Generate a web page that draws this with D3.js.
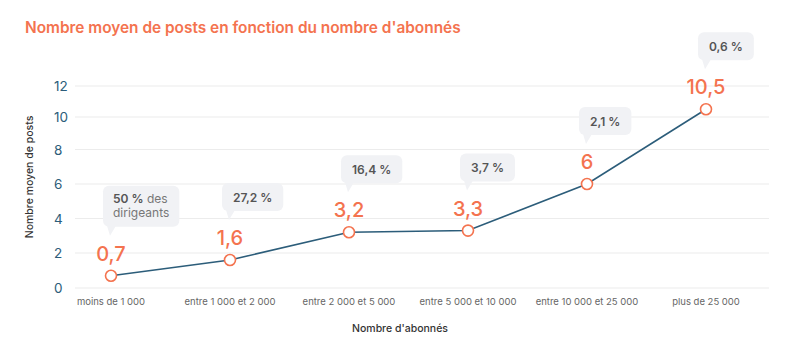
<!DOCTYPE html>
<html><head><meta charset="utf-8">
<script src="https://cdn.jsdelivr.net/npm/d3@7"></script>
<style>
body{margin:0;background:#fff;}
svg{font-family:Inter, "Noto Sans", sans-serif;}
</style></head>
<body>
<svg id="chart" width="800" height="345"></svg>
<script>
const title = "Nombre moyen de posts en fonction du nombre d'abonnés";
const categories = ["moins de 1 000","entre 1 000 et 2 000","entre 2 000 et 5 000","entre 5 000 et 10 000","entre 10 000 et 25 000","plus de 25 000"];
const values = [0.7, 1.6, 3.2, 3.3, 6, 10.5];
const valueLabels = ["0,7","1,6","3,2","3,3","6","10,5"];
const shareBold = ["50 %","27,2 %","16,4 %","3,7 %","2,1 %","0,6 %"];
const shareRest = ["des","","","","",""];
const shareLine2 = ["dirigeants","","","","",""];
const yTicks = [0,2,4,6,8,10,12];
const yTitle = "Nombre moyen de posts";
const xTitle = "Nombre d'abonnés";

const orange = "#f4734f", lineCol = "#2c5d7a";
const svg = d3.select("#chart");

const x = d3.scalePoint().domain(categories).range([111, 706]);
const y = d3.scaleLinear().domain(yTicks).range([288, 253, 218.5, 184, 149.5, 117, 86]);

// title
svg.append("text").attr("x", 25).attr("y", 33).attr("fill", orange)
  .attr("font-size", 15.4).attr("font-weight", 600).text(title);

// gridlines
svg.append("g").selectAll("line").data(yTicks).join("line")
  .attr("x1", 75).attr("x2", 769).attr("y1", d => y(d)).attr("y2", d => y(d))
  .attr("stroke", "#ececec").attr("stroke-width", 1.2);

// y tick labels
svg.append("g").selectAll("text").data(yTicks).join("text")
  .attr("x", 54).attr("y", d => y(d) + 5).attr("fill", "#2c5d7a")
  .attr("font-size", 13.5).text(d => d);

// y title
svg.append("text").attr("transform", "translate(33,177) rotate(-90)")
  .attr("text-anchor", "middle").attr("font-size", 10.5).attr("font-weight", 500)
  .attr("fill", "#333").text(yTitle);

// x tick labels
svg.append("g").selectAll("text").data(categories).join("text")
  .attr("x", d => x(d)).attr("y", 305).attr("text-anchor", "middle")
  .attr("font-size", 9.5).attr("fill", "#666").text(d => d);

// x title
svg.append("text").attr("x", 400).attr("y", 332).attr("text-anchor", "middle")
  .attr("font-size", 10.5).attr("font-weight", 500).attr("fill", "#333").text(xTitle);

// line
const line = d3.line().x((d, i) => x(categories[i])).y(d => y(d));
svg.append("path").datum(values).attr("d", line).attr("fill", "none")
  .attr("stroke", lineCol).attr("stroke-width", 1.6);

// points
svg.append("g").selectAll("circle").data(values).join("circle")
  .attr("cx", (d, i) => x(categories[i])).attr("cy", d => y(d)).attr("r", 5.5)
  .attr("fill", "#fff").attr("stroke", orange).attr("stroke-width", 1.6);

// value labels
svg.append("g").selectAll("text").data(values).join("text")
  .attr("x", (d, i) => x(categories[i])).attr("y", d => y(d) - 15)
  .attr("text-anchor", "middle").attr("font-size", 20).attr("font-weight", 500).attr("fill", orange)
  .text((d, i) => valueLabels[i]);

// bubbles
values.forEach((v, i) => {
  const px = x(categories[i]), py = y(v);
  const g = svg.append("g");
  const twoLines = shareLine2[i] !== "";
  const bottom = py - 49;
  const h = twoLines ? 41 : 28;
  const top = bottom - h;
  const rect = g.append("rect").attr("rx", 6).attr("fill", "#f1f2f5");
  const ptr = g.append("path").attr("fill", "#f1f2f5");
  const t = g.append("text").attr("font-size", 12).attr("fill", "#555");
  t.append("tspan").attr("font-weight", 600).text(shareBold[i]);
  if (shareRest[i]) t.append("tspan").attr("font-weight", 400).attr("fill", "#777").text(" " + shareRest[i]);
  let w;
  if (twoLines) {
    t.attr("x", px + 2).attr("y", top + 17);
    const t2 = g.append("text").attr("font-size", 12).attr("fill", "#777")
      .attr("x", px + 2).attr("y", top + 31).text(shareLine2[i]);
    w = Math.max(t.node().getComputedTextLength(), t2.node().getComputedTextLength()) + 20;
  } else {
    w = t.node().getComputedTextLength() + 22;
    t.attr("x", px - 8 + w / 2).attr("y", top + h / 2 + 4.5).attr("text-anchor", "middle");
  }
  rect.attr("x", px - 8).attr("y", top).attr("width", w).attr("height", h);
  ptr.attr("d", `M${px - 4},${bottom - 1} L${px + 5},${bottom - 1} L${px - 1},${bottom + 9} Z`);
});
</script>
</body></html>
